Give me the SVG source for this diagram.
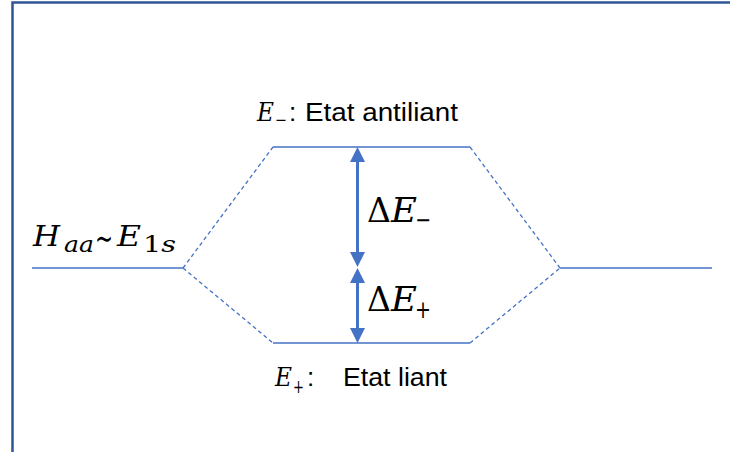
<svg xmlns="http://www.w3.org/2000/svg" width="730" height="452" viewBox="0 0 730 452">
<style>
.lvl{stroke:#4472c4;stroke-width:1.3;fill:none}
.dash{stroke:#4472c4;stroke-width:1.3;fill:none;stroke-dasharray:4 3}
.arr{stroke:#4472c4;stroke-width:3;fill:none}
.head{fill:#4472c4}
.m{font-family:"DejaVu Serif","Liberation Serif",serif;fill:#000}
.mi{font-family:"DejaVu Serif","Liberation Serif",serif;font-style:italic;fill:#000}
.t{font-family:"Liberation Sans","DejaVu Sans",sans-serif;fill:#000}
</style>
<rect x="12.5" y="2.5" width="800" height="600" fill="none" stroke="#2f5597" stroke-width="2.5"/>
<g id="connectors">
<line class="dash" x1="183" y1="268" x2="273" y2="147"/>
<line class="dash" x1="183" y1="268" x2="273" y2="343"/>
<line class="dash" x1="470" y1="147" x2="560" y2="268"/>
<line class="dash" x1="470" y1="343" x2="560" y2="268"/>
<line class="arr" x1="357.5" y1="160" x2="357.5" y2="254"/>
<polygon class="head" points="357.5,147 350,162 365,162"/>
<polygon class="head" points="357.5,267 350,252 365,252"/>
<line class="arr" x1="357.5" y1="281" x2="357.5" y2="330"/>
<polygon class="head" points="357.5,268 350,283 365,283"/>
<polygon class="head" points="357.5,343 350,328 365,328"/>
</g>
<g id="level-left">
<line class="lvl" x1="32" y1="268" x2="183" y2="268"/>
<text class="mi" x="33" y="246" font-size="28" textLength="27" lengthAdjust="spacingAndGlyphs">H</text>
<text class="mi" x="64" y="252" font-size="22" textLength="30" lengthAdjust="spacingAndGlyphs">aa</text>
<text font-family="DejaVu Sans, sans-serif" x="95" y="250" font-size="34" textLength="18" lengthAdjust="spacingAndGlyphs">∼</text>
<text class="mi" x="117" y="246" font-size="28" textLength="24" lengthAdjust="spacingAndGlyphs">E</text>
<text class="m" x="143" y="252" font-size="22" textLength="33" lengthAdjust="spacingAndGlyphs">1<tspan font-style="italic">s</tspan></text>
</g>
<g id="level-right">
<line class="lvl" x1="560" y1="268" x2="712" y2="268"/>
</g>
<g id="level-antiliant">
<line class="lvl" x1="273" y1="147" x2="470" y2="147"/>
<text class="mi" x="257" y="121" font-size="26" textLength="17" lengthAdjust="spacingAndGlyphs">E</text>
<text class="m" x="275" y="126" font-size="18" textLength="12" lengthAdjust="spacingAndGlyphs">−</text>
<text class="t" x="289" y="121" font-size="26">:</text>
<text class="t" x="305" y="121" font-size="26" textLength="153" lengthAdjust="spacingAndGlyphs">Etat antiliant</text>
</g>
<g id="level-liant">
<line class="lvl" x1="273" y1="343" x2="470" y2="343"/>
<text class="mi" x="275" y="386" font-size="26" textLength="17" lengthAdjust="spacingAndGlyphs">E</text>
<text class="m" x="293" y="393" font-size="18" textLength="11" lengthAdjust="spacingAndGlyphs">+</text>
<text class="t" x="307" y="386" font-size="26">:</text>
<text class="t" x="343" y="386" font-size="26" textLength="104" lengthAdjust="spacingAndGlyphs">Etat liant</text>
</g>
<g id="delta-minus">
<text class="m" x="367" y="222" font-size="34" textLength="24" lengthAdjust="spacingAndGlyphs">Δ</text>
<text class="mi" x="391" y="222" font-size="34" textLength="26" lengthAdjust="spacingAndGlyphs">E</text>
<text class="m" x="415" y="228" font-size="24" textLength="16" lengthAdjust="spacingAndGlyphs">−</text>
</g>
<g id="delta-plus">
<text class="m" x="367" y="311" font-size="34" textLength="24" lengthAdjust="spacingAndGlyphs">Δ</text>
<text class="mi" x="391" y="311" font-size="34" textLength="26" lengthAdjust="spacingAndGlyphs">E</text>
<text class="m" x="415" y="318" font-size="24" textLength="16" lengthAdjust="spacingAndGlyphs">+</text>
</g>
</svg>
